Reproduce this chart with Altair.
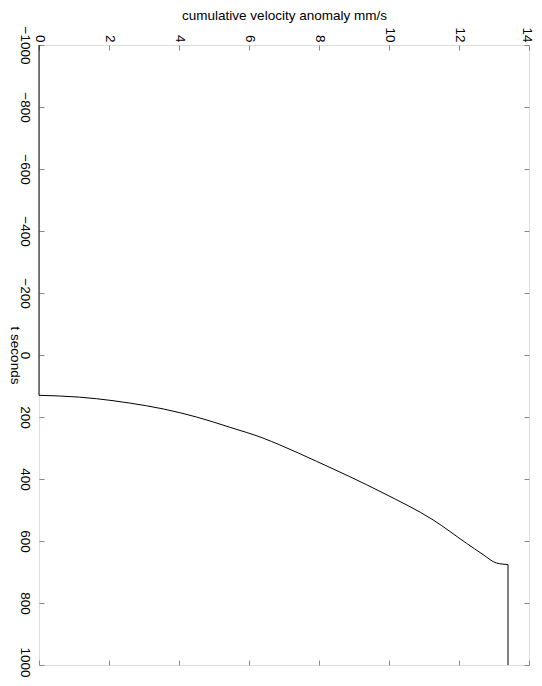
import altair as alt
import pandas as pd

# time (s) and cumulative velocity anomaly (mm/s)
t_seconds = [-1000, 130, 130, 136, 141, 155, 174, 200, 233, 268, 290, 343, 445, 532, 607, 644, 671, 676, 676, 1000]
velocity = [0, 0, 0, 1.16, 1.64, 2.59, 3.55, 4.50, 5.45, 6.40, 6.88, 7.93, 9.83, 11.26, 12.21, 12.69, 13.07, 13.4, 13.4, 13.4]
segment = ["a", "a"] + ["b"] * 16 + ["c", "c"]

x_ticks = [0, 2, 4, 6, 8, 10, 12, 14]
y_ticks = [-1000, -800, -600, -400, -200, 0, 200, 400, 600, 800, 1000]

df = pd.DataFrame({"t": t_seconds, "v": velocity, "seg": segment,
                   "i": list(range(len(t_seconds)))})

FONT = "Liberation Sans"
FS = 13.5
xscale = alt.Scale(domain=[0, 14], nice=False, zero=False)
yscale = alt.Scale(domain=[-1000, 1000], nice=False, zero=False, reverse=True)

main = alt.Chart(df).mark_line(color="black", strokeWidth=1, interpolate="monotone").encode(
    x=alt.X("v:Q", scale=xscale,
            axis=alt.Axis(orient="top", values=x_ticks, title="cumulative velocity anomaly mm/s",
                          labelAngle=90, labelAlign="right", labelBaseline="middle",
                          labelOffset={"condition": {"test": "datum.value >= 14", "value": -3}, "value": 0},
                          domain=False, offset=-5, tickSize=5, labelPadding=3,
                          titleY=-31, titleBaseline="alphabetic",
                          grid=False, titleFontWeight="normal",
                          labelFontSize=FS, titleFontSize=FS)),
    y=alt.Y("t:Q", scale=yscale,
            axis=alt.Axis(orient="left", values=y_ticks, format="d", title="t seconds",
                          labelAngle=90, labelAlign="center", labelBaseline="top",
                          labelOffset={"condition": {"test": "datum.value >= 1000", "value": -3},
                                       "value": 0},
                          domain=False, offset=-5, tickSize=5, labelPadding=8,
                          titleAngle=90, titleX=-33.5, titleY=310, titleAlign="center",
                          titleBaseline="alphabetic",
                          grid=False, titleFontWeight="normal",
                          labelFontSize=FS, titleFontSize=FS)),
    detail="seg:N",
    order="i:Q",
)

other = alt.Chart(df).mark_line(strokeOpacity=0).encode(
    x=alt.X("v:Q", scale=xscale,
            axis=alt.Axis(orient="bottom", values=x_ticks, labels=False, title=None,
                          domain=False, offset=-5, tickSize=5, grid=False)),
    y=alt.Y("t:Q", scale=yscale,
            axis=alt.Axis(orient="right", values=y_ticks, labels=False, title=None,
                          domain=False, offset=-5, tickSize=5, grid=False)),
    detail="seg:N",
    order="i:Q",
)

chart = alt.layer(main, other).resolve_axis(x="independent", y="independent").properties(
    width=490, height=620,
    autosize=alt.AutoSizeParams(type="none"),
    padding={"left": 31, "top": 37, "right": 5, "bottom": 13},
).configure_view(stroke="black", strokeWidth=1).configure_axis(
    labelFont=FONT, titleFont=FONT,
    labelColor="black", titleColor="black", tickColor="black", tickWidth=1,
).configure(background="white")

chart.save("out.html", embed_options={"renderer": "svg", "actions": False})
